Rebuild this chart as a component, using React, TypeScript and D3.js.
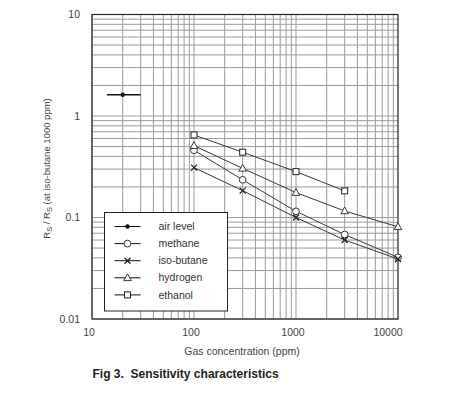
import React from 'react';
import * as d3 from 'd3';

const W = 450;
const H = 396;

// concentrations (ppm) measured for each gas
const concentrations = [100, 300, 1000, 3000, 10000];
const methane = [0.46, 0.235, 0.115, 0.068, 0.0405];
const isoButane = [0.31, 0.184, 0.1, 0.06, 0.039];
const hydrogen = [0.51, 0.305, 0.176, 0.116, 0.081];
const ethanol = [0.65, 0.44, 0.283, 0.183];

// air level point with its horizontal range
const airLevel = { x: 20, y: 1.62, xMin: 14, xMax: 30 };

const xTicks = [10, 100, 1000, 10000];
const yTicks = [0.01, 0.1, 1, 10];
const yTickLabels = ['0.01', '0.1', '1', '10'];

type Marker = 'dot' | 'circle' | 'cross' | 'triangle' | 'square';

const series: { name: string; marker: Marker; values: number[] }[] = [
  { name: 'methane', marker: 'circle', values: methane },
  { name: 'iso-butane', marker: 'cross', values: isoButane },
  { name: 'hydrogen', marker: 'triangle', values: hydrogen },
  { name: 'ethanol', marker: 'square', values: ethanol },
];

const legendItems: { name: string; marker: Marker }[] = [
  { name: 'air level', marker: 'dot' },
  { name: 'methane', marker: 'circle' },
  { name: 'iso-butane', marker: 'cross' },
  { name: 'hydrogen', marker: 'triangle' },
  { name: 'ethanol', marker: 'square' },
];

const plot = { left: 92, right: 398, top: 14.5, bottom: 319 };
const lineColor = '#3a3a3a';
const gridColor = '#9a9a9a';
const font = '"Liberation Sans", Arial, sans-serif';

const drawMarker = (m: Marker, cx: number, cy: number, key: string) => {
  switch (m) {
    case 'dot':
      return <circle key={key} cx={cx} cy={cy} r={2.2} fill="#111" />;
    case 'circle':
      return <circle key={key} cx={cx} cy={cy} r={3.4} fill="#fff" stroke={lineColor} strokeWidth={1} />;
    case 'cross':
      return (
        <path key={key} d={`M${cx - 3},${cy - 3}L${cx + 3},${cy + 3}M${cx - 3},${cy + 3}L${cx + 3},${cy - 3}`}
          stroke="#222" strokeWidth={1.3} fill="none" />
      );
    case 'triangle':
      return (
        <path key={key} d={`M${cx},${cy - 4}L${cx + 3.8},${cy + 2.8}L${cx - 3.8},${cy + 2.8}Z`}
          fill="#fff" stroke={lineColor} strokeWidth={1} />
      );
    case 'square':
      return <rect key={key} x={cx - 3} y={cy - 3} width={6} height={6} fill="#fff" stroke="#222" strokeWidth={1} />;
  }
};

export default function App() {
  const x = d3.scaleLog().domain([10, 10000]).range([plot.left, plot.right]);
  const y = d3.scaleLog().domain([0.01, 10]).range([plot.bottom, plot.top]);

  // minor grid values 1..9 per decade
  const xGrid: number[] = [];
  for (let d = 10; d < 10000; d *= 10) for (let k = 1; k <= 9; k++) xGrid.push(d * k);
  const yGrid: number[] = [];
  for (let d = 0.01; d < 9.9; d *= 10) for (let k = 1; k <= 9; k++) yGrid.push(+(d * k).toPrecision(3));

  const line = d3.line<[number, number]>().x(d => x(d[0])).y(d => y(d[1]));

  const legend = { x: 104.5, y: 212.5, w: 123, h: 98.5, row: 17.1 };

  return (
    <svg width={W} height={H} style={{ position: 'absolute', left: 0, top: 0, background: '#fff' }}
      fontFamily={font}>
      {/* grid */}
      <g stroke={gridColor} strokeWidth={1}>
        {xGrid.map((v, i) => (
          <line key={'gx' + i} x1={x(v)} x2={x(v)} y1={plot.top} y2={plot.bottom} />
        ))}
        {yGrid.map((v, i) => (
          <line key={'gy' + i} x1={plot.left} x2={plot.right} y1={y(v)} y2={y(v)} />
        ))}
      </g>
      <rect x={plot.left} y={plot.top} width={plot.right - plot.left} height={plot.bottom - plot.top}
        fill="none" stroke="#222" strokeWidth={1.2} />

      {/* y tick labels */}
      {yTicks.map((v, i) => (
        <text key={'yt' + i} x={plot.left - 12} y={y(v)} dy="0.35em" textAnchor="end" fontSize={10.5} fill="#444">
          {yTickLabels[i]}
        </text>
      ))}
      {/* x tick labels */}
      {xTicks.map((v, i) => (
        <text key={'xt' + i} x={i === xTicks.length - 1 ? x(v) - 10 : x(v) - 3} y={plot.bottom + 17}
          textAnchor="middle" fontSize={10.5} fill="#444">
          {d3.format('d')(v)}
        </text>
      ))}

      {/* axis titles */}
      <text x={242} y={355} textAnchor="middle" fontSize={10.5} fill="#444">Gas concentration (ppm)</text>
      <text transform={`translate(50,${168.5}) rotate(-90)`} textAnchor="middle" fontSize={9.5} fill="#444">
        R<tspan fontSize={7.5} dy={2}>S</tspan><tspan dy={-2}> / R</tspan><tspan fontSize={7.5} dy={2}>S</tspan>
        <tspan dy={-2}> (at iso-butane 1000 ppm)</tspan>
      </text>
      <text x={92.5} y={377.5} fontSize={12} fontWeight="bold" fill="#222">
        Fig 3.{'\u00a0\u00a0'}Sensitivity characteristics
      </text>

      {/* air level */}
      <line x1={x(airLevel.xMin)} x2={x(airLevel.xMax)} y1={y(airLevel.y)} y2={y(airLevel.y)}
        stroke="#111" strokeWidth={1.3} />
      {drawMarker('dot', x(airLevel.x), y(airLevel.y), 'air')}

      {/* series */}
      {series.map(s => {
        const pts = s.values.map((v, i) => [concentrations[i], v] as [number, number]);
        return (
          <g key={s.name}>
            <path d={line(pts) || ''} fill="none" stroke={lineColor} strokeWidth={1} />
            {pts.map((p, i) => drawMarker(s.marker, x(p[0]), y(p[1]), s.name + i))}
          </g>
        );
      })}

      {/* legend */}
      <rect x={legend.x} y={legend.y} width={legend.w} height={legend.h} fill="#fff" stroke="#222" strokeWidth={1} />
      {legendItems.map((it, i) => {
        const cy = legend.y + 14 + i * legend.row;
        return (
          <g key={'lg' + i}>
            <line x1={legend.x + 10} x2={legend.x + 36} y1={cy} y2={cy} stroke="#111" strokeWidth={1} />
            {drawMarker(it.marker, legend.x + 23, cy, 'lm' + i)}
            <text x={legend.x + 54} y={cy} dy="0.35em" fontSize={10.5} fill="#333">{it.name}</text>
          </g>
        );
      })}
    </svg>
  );
}
